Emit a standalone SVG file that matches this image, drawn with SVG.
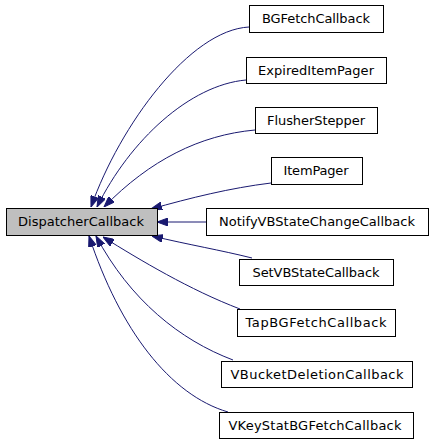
<svg xmlns="http://www.w3.org/2000/svg" width="432" height="443" viewBox="0 0 432 443">
<style>
rect{fill:#fff;stroke:#000;stroke-width:1}
#DispatcherCallback rect{fill:#bfbfbf}
text{font-family:"DejaVu Sans","Liberation Sans",sans-serif;font-size:13px;fill:#000;text-anchor:middle}
.e{fill:none;stroke:#191970;stroke-width:1;marker-end:url(#ah)}
</style>
<defs>
<marker id="ah" markerUnits="userSpaceOnUse" markerWidth="11" markerHeight="8" refX="11" refY="4" orient="auto">
<path d="M0,0 L11,4 L0,8 z" fill="#191970" stroke="#191970"/>
</marker>
</defs>
<g id="connectors">
<path class="e" d="M249,27 C190,30 120,125 91,207"/>
<path class="e" d="M246,80 C190,85 130,140 97,207"/>
<path class="e" d="M255,130 C200,135 150,160 104,207"/>
<path class="e" d="M271,183 C230,188 190,198 151,209"/>
<path class="e" d="M206,222 L157,222"/>
<path class="e" d="M252,258 C220,250 190,245 152,236"/>
<path class="e" d="M240,309 C190,290 140,260 103,237"/>
<path class="e" d="M233,360 C180,340 130,300 96,236"/>
<path class="e" d="M228,412 C170,395 120,330 89,236"/>
</g>
<g id="DispatcherCallback"><rect x="6.5" y="208.5" width="151" height="27"/><text x="81" y="226" textLength="126" lengthAdjust="spacing">DispatcherCallback</text></g>
<g id="BGFetchCallback"><rect x="249.5" y="5.5" width="134" height="27"/><text x="316" y="23" textLength="108" lengthAdjust="spacing">BGFetchCallback</text></g>
<g id="ExpiredItemPager"><rect x="246.5" y="57.5" width="140" height="26"/><text x="316" y="75" textLength="116" lengthAdjust="spacing">ExpiredItemPager</text></g>
<g id="FlusherStepper"><rect x="255.5" y="107.5" width="122" height="26"/><text x="316" y="125" textLength="98" lengthAdjust="spacing">FlusherStepper</text></g>
<g id="ItemPager"><rect x="271.5" y="157.5" width="91" height="27"/><text x="316" y="175" textLength="65" lengthAdjust="spacing">ItemPager</text></g>
<g id="NotifyVBStateChangeCallback"><rect x="206.5" y="208.5" width="222" height="27"/><text x="317" y="226" textLength="196" lengthAdjust="spacing">NotifyVBStateChangeCallback</text></g>
<g id="SetVBStateCallback"><rect x="239.5" y="259.5" width="154" height="26"/><text x="316" y="277" textLength="127" lengthAdjust="spacing">SetVBStateCallback</text></g>
<g id="TapBGFetchCallback"><rect x="237.5" y="309.5" width="158" height="27"/><text x="316" y="327" textLength="141" lengthAdjust="spacing">TapBGFetchCallback</text></g>
<g id="VBucketDeletionCallback"><rect x="221.5" y="361.5" width="191" height="26"/><text x="317" y="379" textLength="173" lengthAdjust="spacing">VBucketDeletionCallback</text></g>
<g id="VKeyStatBGFetchCallback"><rect x="219.5" y="412.5" width="194" height="26"/><text x="315" y="430" textLength="173" lengthAdjust="spacing">VKeyStatBGFetchCallback</text></g>
</svg>
